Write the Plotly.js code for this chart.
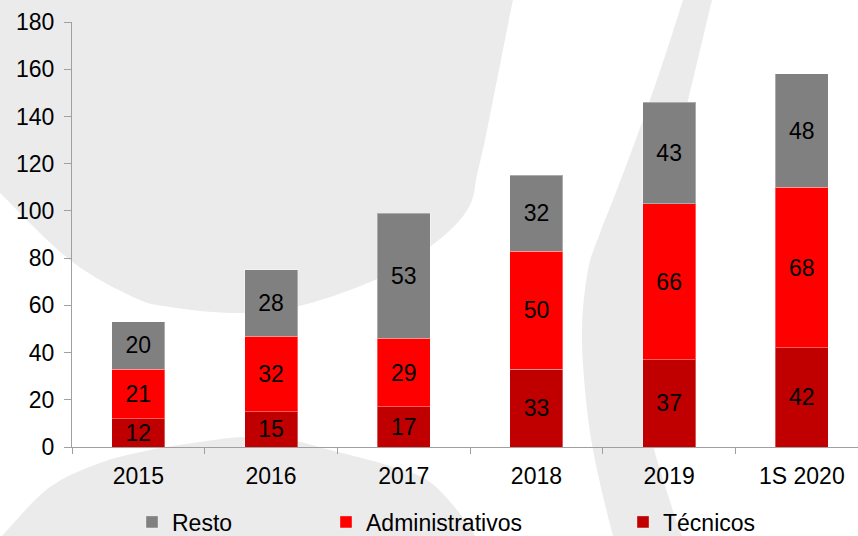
<!DOCTYPE html>
<html>
<head>
<meta charset="utf-8">
<script src="https://cdn.plot.ly/plotly-3.0.1.min.js"></script>
<style>
  html, body { margin: 0; padding: 0; background: #ffffff; }
  #chart { width: 858px; height: 536px; }
</style>
</head>
<body>
<div id="chart"></div>
<script>
// ---- Data ----
var categories = ['2015', '2016', '2017', '2018', '2019', '1S 2020'];
var tecnicos = [12, 15, 17, 33, 37, 42];
var administrativos = [21, 32, 29, 50, 66, 68];
var resto = [20, 28, 53, 32, 43, 48];
var yTickValues = [0, 20, 40, 60, 80, 100, 120, 140, 160, 180];

// ---- Geometry helpers (decorative background only) ----
var W = 858, H = 536, L = 72, T = 22, B = 89, R = 0;
var PW = W - L - R, PH = H - T - B;
function px2x(px) { return (px - L) / PW; }
function py2y(py) { return (H - B - py) / PH; }
function fmt(p) { return px2x(p[0]).toFixed(5) + ',' + py2y(p[1]).toFixed(5); }
function spline(pts) {
  var s = '';
  for (var i = 0; i < pts.length - 1; i++) {
    var p0 = pts[Math.max(i - 1, 0)], p1 = pts[i], p2 = pts[i + 1], p3 = pts[Math.min(i + 2, pts.length - 1)];
    var c1 = [p1[0] + (p2[0] - p0[0]) / 6, p1[1] + (p2[1] - p0[1]) / 6];
    var c2 = [p2[0] - (p3[0] - p1[0]) / 6, p2[1] - (p3[1] - p1[1]) / 6];
    s += ' C' + fmt(c1) + ' ' + fmt(c2) + ' ' + fmt(p2);
  }
  return s;
}
var blobTop = [[516,-5],[513,0],[502,55],[493,100],[485,140],[477,175],[470,205],[447,233],[400,267],[350,290],[290,308],[233,313],[170,307],[133,297],[70,260],[0,193],[-5,188]];
var pathTop = 'M' + fmt([-5,-5]) + ' L' + fmt(blobTop[0]) + spline(blobTop) + ' Z';

var bandL = [[685,-8],[683,0],[667,50],[650,100],[632,150],[613,200],[600,233],[588,270],[582,330],[586,400],[595,460],[613,536],[618,545]];
var bandR = [[692,545],[682,536],[668,495],[652,440],[645,380],[648,300],[662,200],[688,100],[712,0],[715,-8]];
var pathBand = 'M' + fmt(bandL[0]) + spline(bandL) + ' L' + fmt(bandR[0]) + spline(bandR) + ' Z';

var blobBot = [[-5,545],[10,527],[50,487],[100,463],[150,450],[200,442],[245,437],[290,440],[330,450],[390,466],[430,482],[465,520],[480,545]];
var pathBot = 'M' + fmt(blobBot[0]) + spline(blobBot) + ' Z';

var bgShape = function (p) {
  return { type: 'path', xref: 'paper', yref: 'paper', path: p, fillcolor: '#ebebeb', line: { width: 0 }, layer: 'below' };
};

// ---- Traces ----
var FONT = '"Liberation Sans", Arial, sans-serif';
var labelFont = { family: FONT, size: 23, color: '#000000' };
function barTrace(name, vals, color, legendId) {
  return {
    type: 'bar', name: name, x: categories, y: vals,
    text: vals.map(String), textposition: 'inside', insidetextanchor: 'middle',
    textangle: 0, textfont: labelFont, constraintext: 'none', cliponaxis: false,
    marker: { color: color, line: { color: 'rgba(255,255,255,0.35)', width: 1 } },
    legend: legendId, hoverinfo: 'x+y+name'
  };
}
var data = [
  barTrace('Técnicos', tecnicos, '#C00000', 'legend3'),
  barTrace('Administrativos', administrativos, '#FF0000', 'legend2'),
  barTrace('Resto', resto, '#808080', 'legend')
];

function legendAt(textStartPx) {
  return {
    x: px2x(textStartPx - 41), xanchor: 'left', y: py2y(522), yanchor: 'middle',
    orientation: 'h', bgcolor: 'rgba(0,0,0,0)', borderwidth: 0,
    font: { family: FONT, size: 23, color: '#000000' }
  };
}

var layout = {
  width: W, height: H,
  margin: { l: L, r: R, t: T, b: B, pad: 0, autoexpand: false },
  paper_bgcolor: '#ffffff', plot_bgcolor: 'rgba(0,0,0,0)',
  barmode: 'stack', bargap: 0.6,
  font: { family: FONT, size: 23, color: '#000000' },
  showlegend: true,
  legend: legendAt(173),
  legend2: legendAt(367),
  legend3: legendAt(664),
  xaxis: {
    type: 'category', range: [-0.5, -0.5 + PW / 132.7],
    showline: true, linecolor: '#a0a0a0', linewidth: 1,
    ticks: 'outside', tickson: 'boundaries', ticklen: 6, tickcolor: '#a0a0a0',
    showgrid: false, zeroline: false, fixedrange: true, automargin: false,
    ticklabelstandoff: 8,
    tickfont: { family: FONT, size: 23, color: '#000000' }
  },
  yaxis: {
    range: [0, 180], tickvals: yTickValues,
    showline: true, linecolor: '#a0a0a0', linewidth: 1,
    ticks: 'outside', ticklen: 7, tickcolor: '#a0a0a0',
    showgrid: false, zeroline: false, fixedrange: true, automargin: false,
    ticklabelstandoff: 5,
    tickfont: { family: FONT, size: 23, color: '#000000' }
  },
  shapes: [bgShape(pathTop), bgShape(pathBand), bgShape(pathBot)]
};

Plotly.newPlot('chart', data, layout, { displayModeBar: false, staticPlot: true });
</script>
</body>
</html>
